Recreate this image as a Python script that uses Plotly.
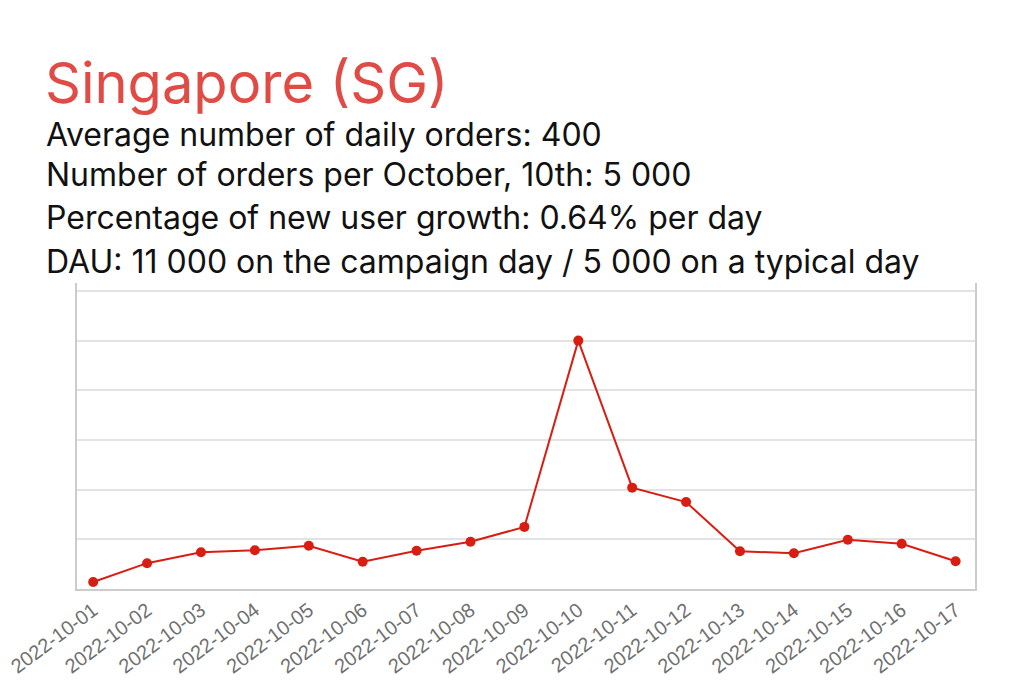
import plotly.graph_objects as go

dates = ["2022-10-01", "2022-10-02", "2022-10-03", "2022-10-04", "2022-10-05",
         "2022-10-06", "2022-10-07", "2022-10-08", "2022-10-09", "2022-10-10",
         "2022-10-11", "2022-10-12", "2022-10-13", "2022-10-14", "2022-10-15",
         "2022-10-16", "2022-10-17"]
orders = [140, 520, 740, 780, 870, 550, 770, 950, 1250, 5000,
          2040, 1750, 760, 720, 990, 910, 560]

title_text = "Singapore (SG)"
info_lines = [
    "Average number of daily orders: 400",
    "Number of orders per October, 10th: 5 000",
    "Percentage of new user growth: 0.64% per day",
    "DAU: 11 000 on the campaign day / 5 000 on a typical day",
]

# page body adds an 8px offset, so positions below are screen px minus 8
OFF = 8
W, H = 1024, 683
ml, mt = 77 - OFF, 283 - OFF
mr, mb = W - (975 - OFF), H - (589 - OFF)
plot_w = W - ml - mr
plot_h = H - mt - mb


def px_x(x):
    return (x - OFF - ml) / plot_w


def px_y(y):
    return (H - mb - (y - OFF)) / plot_h


fig = go.Figure()
fig.add_trace(go.Scatter(
    x=dates, y=orders, mode="lines+markers",
    line=dict(color="#d81e12", width=2),
    marker=dict(color="#d81e12", size=10),
    showlegend=False, hoverinfo="x+y",
))

fig.add_annotation(text=title_text, xref="paper", yref="paper",
                   x=px_x(43), y=px_y(83), xanchor="left", yanchor="middle",
                   showarrow=False,
                   font=dict(family="Inter", size=56, color="#e04b45"))
line_y = [134, 175, 217, 261]
for txt, yy in zip(info_lines, line_y):
    fig.add_annotation(text=txt, xref="paper", yref="paper",
                       x=px_x(44), y=px_y(yy), xanchor="left", yanchor="middle",
                       showarrow=False,
                       font=dict(family="Inter", size=32, color="#111111"))

fig.update_layout(
    width=W, height=H,
    margin=dict(l=ml, r=mr, t=mt, b=mb, autoexpand=False),
    paper_bgcolor="white", plot_bgcolor="white",
    font=dict(family="Liberation Sans, Arial", color="#666666"),
)
fig.update_xaxes(
    type="category", range=[-0.3, 16.36], automargin=False,
    showgrid=False, showline=True, linecolor="#cccccc", linewidth=1.5,
    tickangle=-37, tickfont=dict(size=20, color="#707070"),
    ticks="",
)
fig.update_yaxes(
    range=[0, 6160], tickvals=[0, 1000, 2000, 3000, 4000, 5000, 6000],
    automargin=False,
    showticklabels=False, showgrid=True, gridcolor="#e3e3e3", gridwidth=1.5,
    showline=True, mirror=True, linecolor="#cccccc", linewidth=1.5,
    zeroline=False, ticks="",
)

fig.write_html("out.html")
